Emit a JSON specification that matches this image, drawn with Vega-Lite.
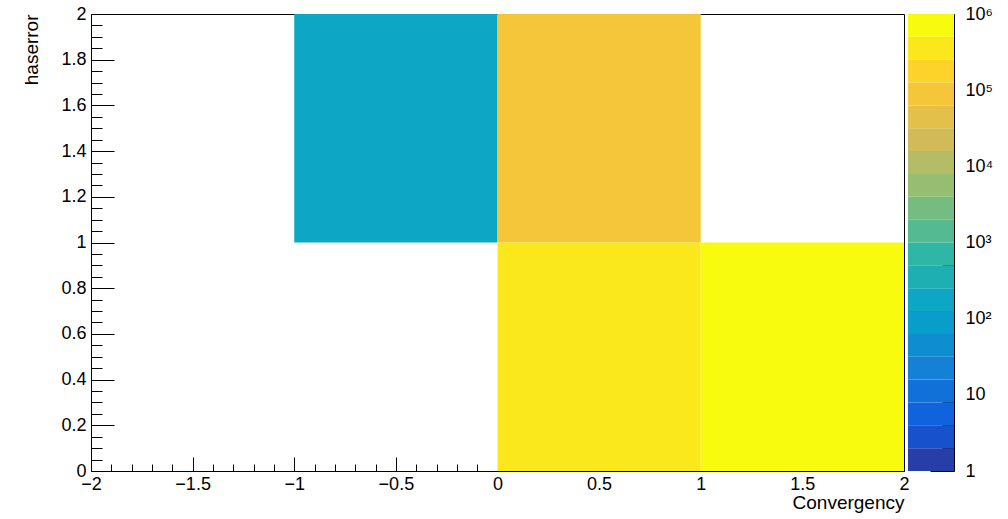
{
  "$schema": "https://vega.github.io/schema/vega-lite/v6.json",
  "background": "white",
  "autosize": {"type": "none"},
  "padding": {"left": 91, "top": 14, "right": 54, "bottom": 48},
  "width": 863,
  "height": 457,
  "config": {
    "font": "Liberation Sans",
    "view": {"stroke": null},
    "axis": {"grid": false, "domainColor": "#000", "tickColor": "#000", "labelColor": "#000", "titleColor": "#000", "labelFont": "Liberation Sans", "titleFont": "Liberation Sans", "labelFontSize": 18, "titleFontSize": 19, "titleFontWeight": "normal", "labelFlush": false, "labelOverlap": false}
  },
  "datasets": {
    "cells": [
      {"x0": -1, "x1": 0, "y0": 1, "y1": 2, "count": 180},
      {"x0": 0, "x1": 1, "y0": 1, "y1": 2, "count": 90000},
      {"x0": 0, "x1": 1, "y0": 0, "y1": 1, "count": 350000},
      {"x0": 1, "x1": 2, "y0": 0, "y1": 1, "count": 700000}
    ],
    "bands": [
      {"lo": 1, "hi": 1.9953},
      {"lo": 1.9953, "hi": 3.9811},
      {"lo": 3.9811, "hi": 7.9433},
      {"lo": 7.9433, "hi": 15.849},
      {"lo": 15.849, "hi": 31.623},
      {"lo": 31.623, "hi": 63.096},
      {"lo": 63.096, "hi": 125.89},
      {"lo": 125.89, "hi": 251.19},
      {"lo": 251.19, "hi": 501.19},
      {"lo": 501.19, "hi": 1000},
      {"lo": 1000, "hi": 1995.3},
      {"lo": 1995.3, "hi": 3981.1},
      {"lo": 3981.1, "hi": 7943.3},
      {"lo": 7943.3, "hi": 15849},
      {"lo": 15849, "hi": 31623},
      {"lo": 31623, "hi": 63096},
      {"lo": 63096, "hi": 125893},
      {"lo": 125893, "hi": 251189},
      {"lo": 251189, "hi": 501187},
      {"lo": 501187, "hi": 1000000}
    ]
  },
  "layer": [
    {
      "data": {"name": "cells"},
      "mark": {"type": "rect", "opacity": 0},
      "encoding": {
        "x": {"field": "x0", "type": "quantitative", "scale": {"domain": [-2, 2], "range": [0, 813], "nice": false, "zero": false},
          "axis": {"orient": "top", "ticks": false, "labels": false, "title": null, "domain": true}},
        "x2": {"field": "x1"},
        "y": {"field": "y0", "type": "quantitative", "scale": {"domain": [0, 2], "nice": false, "zero": false},
          "axis": {"orient": "right", "offset": -50, "ticks": false, "labels": false, "title": null, "domain": true}},
        "y2": {"field": "y1"}
      }
    },
    {
      "data": {"name": "cells"},
      "mark": {"type": "rect"},
      "encoding": {
        "x": {"field": "x0", "type": "quantitative", "scale": {"domain": [-2, 2], "range": [0, 813], "nice": false, "zero": false},
          "axis": {"orient": "bottom", "values": [-2, -1.5, -1, -0.5, 0, 0.5, 1, 1.5, 2], "format": "~g", "tickSize": -14, "labelPadding": 18, "title": "Convergency", "titleAnchor": "end", "titleAlign": "right", "titleX": 813, "titleY": 37, "titleBaseline": "alphabetic"}},
        "x2": {"field": "x1"},
        "y": {"field": "y0", "type": "quantitative", "scale": {"domain": [0, 2], "nice": false, "zero": false},
          "axis": {"orient": "left", "values": [0, 0.2, 0.4, 0.6, 0.8, 1, 1.2, 1.4, 1.6, 1.8, 2], "format": "~g", "tickSize": -23, "labelPadding": 28, "title": "haserror", "titleAnchor": "end", "titleAlign": "right", "titleAngle": -90, "titleX": -54, "titleY": 0, "titleBaseline": "alphabetic"}},
        "y2": {"field": "y1"},
        "color": {"field": "count", "type": "quantitative", "legend": null,
          "scale": {"type": "threshold",
            "domain": [1.9953, 3.9811, 7.9433, 15.849, 31.623, 63.096, 125.89, 251.19, 501.19, 1000, 1995.3, 3981.1, 7943.3, 15849, 31623, 63096, 125893, 251189, 501187],
            "range": ["#273da8", "#1751cb", "#1063dc", "#1271d9", "#1480d6", "#0e8ed1", "#099dcc", "#0da7c3", "#1eafb3", "#2eb7a4", "#53ba91", "#74bd80", "#96be71", "#b4bd65", "#d1bb59", "#e2c04a", "#f5c63a", "#fdd32a", "#fbe81c", "#f9fb0e"]}}
      }
    },
    {
      "data": {"name": "cells"},
      "mark": {"type": "rect", "opacity": 0},
      "encoding": {
        "x": {"field": "x0", "type": "quantitative", "scale": {"domain": [-2, 2], "range": [0, 813], "nice": false, "zero": false},
          "axis": {"orient": "bottom", "values": [-1.9, -1.8, -1.7, -1.6, -1.4, -1.3, -1.2, -1.1, -0.9, -0.8, -0.7, -0.6, -0.4, -0.3, -0.2, -0.1, 0.1, 0.2, 0.3, 0.4, 0.6, 0.7, 0.8, 0.9, 1.1, 1.2, 1.3, 1.4, 1.6, 1.7, 1.8, 1.9], "tickSize": -7, "labels": false, "domain": false, "title": null}},
        "x2": {"field": "x1"},
        "y": {"field": "y0", "type": "quantitative", "scale": {"domain": [0, 2], "nice": false, "zero": false},
          "axis": {"orient": "left", "values": [0.05, 0.1, 0.15, 0.25, 0.3, 0.35, 0.45, 0.5, 0.55, 0.65, 0.7, 0.75, 0.85, 0.9, 0.95, 1.05, 1.1, 1.15, 1.25, 1.3, 1.35, 1.45, 1.5, 1.55, 1.65, 1.7, 1.75, 1.85, 1.9, 1.95], "tickSize": -11, "labels": false, "domain": false, "title": null}},
        "y2": {"field": "y1"}
      }
    },
    {
      "data": {"name": "bands"},
      "mark": {"type": "rect"},
      "encoding": {
        "x": {"datum": 0, "type": "quantitative", "scale": {"domain": [0, 1], "range": [817, 863], "nice": false, "zero": false}, "axis": null},
        "x2": {"datum": 1},
        "y": {"field": "lo", "type": "quantitative", "scale": {"type": "log", "domain": [1, 1000000], "nice": false},
          "axis": {"orient": "right", "values": [1, 10, 100, 1000, 10000, 100000, 1000000], "tickSize": -24, "labelPadding": 35, "labelAlign": "left", "title": null,
            "labelExpr": "datum.value == 1 ? '1' : datum.value == 10 ? '10' : datum.value == 100 ? '10²' : datum.value == 1000 ? '10³' : datum.value == 10000 ? '10⁴' : datum.value == 100000 ? '10⁵' : '10⁶'"}},
        "y2": {"field": "hi"},
        "color": {"field": "lo", "type": "quantitative", "legend": null,
          "scale": {"type": "threshold",
            "domain": [1.9953, 3.9811, 7.9433, 15.849, 31.623, 63.096, 125.89, 251.19, 501.19, 1000, 1995.3, 3981.1, 7943.3, 15849, 31623, 63096, 125893, 251189, 501187],
            "range": ["#273da8", "#1751cb", "#1063dc", "#1271d9", "#1480d6", "#0e8ed1", "#099dcc", "#0da7c3", "#1eafb3", "#2eb7a4", "#53ba91", "#74bd80", "#96be71", "#b4bd65", "#d1bb59", "#e2c04a", "#f5c63a", "#fdd32a", "#fbe81c", "#f9fb0e"]}}
      }
    },
    {
      "data": {"name": "bands"},
      "mark": {"type": "rect", "opacity": 0},
      "encoding": {
        "x": {"datum": 0, "type": "quantitative", "scale": {"domain": [0, 1], "range": [817, 863], "nice": false, "zero": false}, "axis": null},
        "x2": {"datum": 1},
        "y": {"field": "lo", "type": "quantitative", "scale": {"type": "log", "domain": [1, 1000000], "nice": false},
          "axis": {"orient": "right", "values": [2, 3, 4, 5, 6, 7, 8, 9, 20, 30, 40, 50, 60, 70, 80, 90, 200, 300, 400, 500, 600, 700, 800, 900, 2000, 3000, 4000, 5000, 6000, 7000, 8000, 9000, 20000, 30000, 40000, 50000, 60000, 70000, 80000, 90000, 200000, 300000, 400000, 500000, 600000, 700000, 800000, 900000], "tickSize": -12, "labels": false, "domain": false, "title": null}},
        "y2": {"field": "hi"}
      }
    }
  ],
  "resolve": {"scale": {"x": "independent", "y": "independent"}, "axis": {"x": "independent", "y": "independent"}}
}
